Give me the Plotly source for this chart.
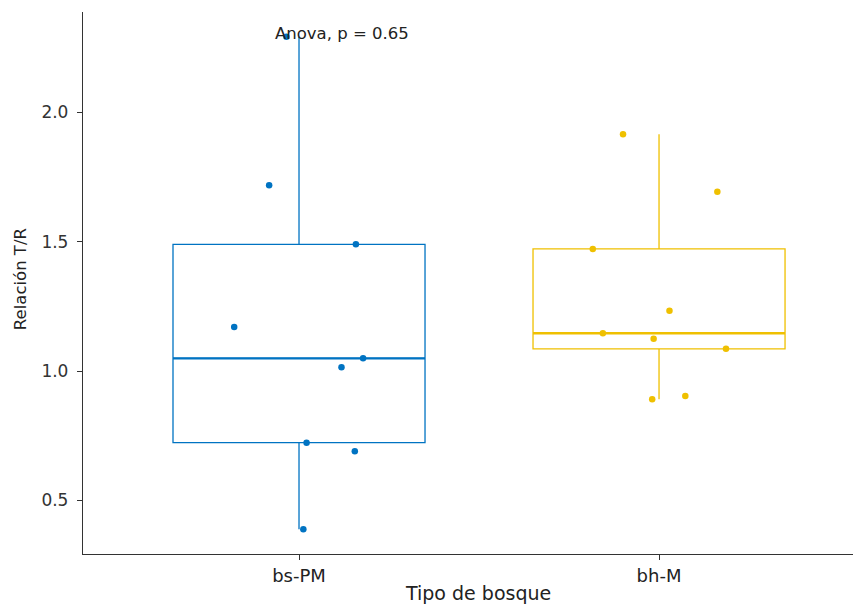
import numpy as np
import plotly.graph_objects as go

# ---- data ----
groups = ["bs-PM", "bh-M"]
group_pos = [1, 2]
colors = ["#0073C2", "#EFC000"]

bs_pm_values = [2.292, 1.718, 1.490, 1.170, 1.049, 1.015, 0.723, 0.690, 0.388]
bs_pm_jitter = [-0.035, -0.083, 0.158, -0.180, 0.178, 0.118, 0.021, 0.155, 0.012]

bh_m_values = [1.915, 1.693, 1.472, 1.233, 1.146, 1.125, 1.086, 0.891, 0.903]
bh_m_jitter = [-0.100, 0.162, -0.184, 0.029, -0.156, -0.015, 0.186, -0.019, 0.073]

y_ticks = [0.5, 1.0, 1.5, 2.0]
anova_label = "Anova, p = 0.65"
x_title = "Tipo de bosque"
y_title = "Relación T/R"

values = [bs_pm_values, bh_m_values]
jitters = [bs_pm_jitter, bh_m_jitter]
BOX_W = 0.7
FONT = "DejaVu Sans"

fig = go.Figure()
for name, pos, col, vals, jit in zip(groups, group_pos, colors, values, jitters):
    fig.add_trace(go.Box(
        x=[pos] * len(vals), y=vals, name=name,
        boxpoints=False, quartilemethod="inclusive",
        width=BOX_W, whiskerwidth=0,
        line=dict(color=col, width=1.3),
        fillcolor="rgba(255,255,255,0)",
        showlegend=False, hoverinfo="skip",
    ))
    med = float(np.median(vals))
    fig.add_trace(go.Scatter(
        x=[pos - BOX_W / 2, pos + BOX_W / 2], y=[med, med],
        mode="lines", line=dict(color=col, width=2.4),
        showlegend=False, hoverinfo="skip",
    ))
    fig.add_trace(go.Scatter(
        x=[pos + j for j in jit], y=vals, mode="markers",
        marker=dict(color=col, size=6.5),
        showlegend=False,
    ))

fig.add_annotation(
    x=1.12, y=2.305, xref="x", yref="y", text=anova_label,
    showarrow=False, font=dict(family=FONT, size=16.5, color="#222"),
    xanchor="center", yanchor="middle",
)
fig.add_annotation(
    x=0.508, y=-0.072, xref="paper", yref="paper", text=x_title,
    showarrow=False, font=dict(family=FONT, size=19, color="#222"),
    xanchor="center", yanchor="middle",
)
fig.add_annotation(
    x=-0.081, y=0.507, xref="paper", yref="paper", text=y_title,
    showarrow=False, textangle=-90,
    font=dict(family=FONT, size=16.5, color="#222"),
    xanchor="center", yanchor="middle",
)

axis_common = dict(
    showline=True, linecolor="#333333", linewidth=1.3,
    ticks="outside", ticklen=5, tickcolor="#333333", tickwidth=1.2,
    showgrid=False, zeroline=False,
)
# the page body adds an 8px offset, so the figure is sized to fit the window
fig.update_layout(
    width=853, height=598,
    margin=dict(l=75, r=0, t=4, b=52, autoexpand=False),
    plot_bgcolor="white", paper_bgcolor="white",
    font=dict(family=FONT, color="#222"),
    xaxis=dict(range=[0.4, 2.561], tickvals=group_pos, ticktext=groups,
               tickfont=dict(size=18, color="#222"), **axis_common),
    yaxis=dict(range=[0.2926, 2.388], tickvals=y_ticks,
               ticktext=[f"{v:.1f}" for v in y_ticks],
               tickfont=dict(size=17, color="#333"),
               ticklabelstandoff=5, **axis_common),
    showlegend=False,
)

fig.write_html("out.html")
